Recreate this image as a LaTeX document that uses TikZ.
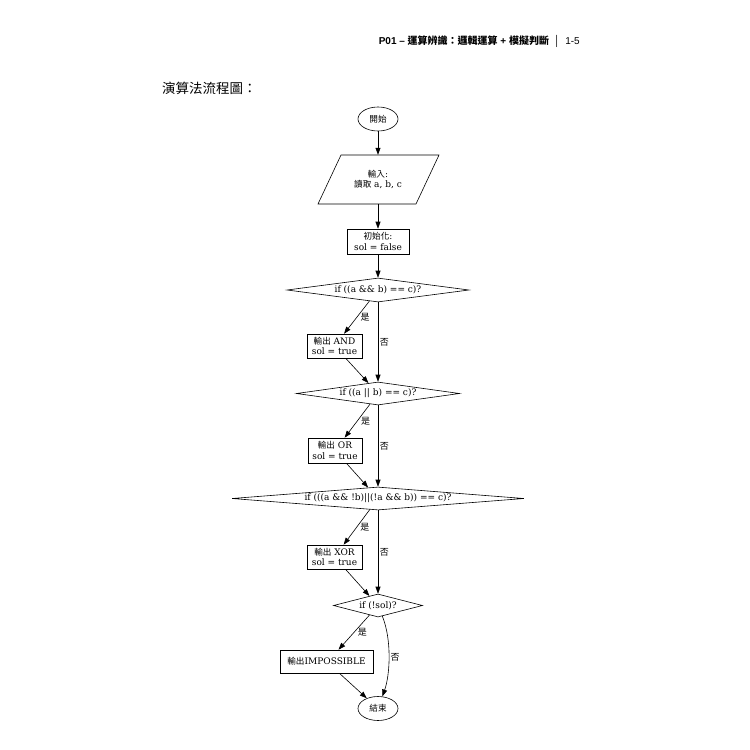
\documentclass[tikz,border=0pt]{standalone}
\usepackage{fontspec}
\setmainfont{DejaVu Serif}
\newfontfamily\cjk{Noto Sans CJK TC}
\newfontfamily\hsans{Liberation Sans}
\usetikzlibrary{shapes.geometric,arrows.meta}
\newcommand\zh[1]{{\cjk\fontsize{8.6}{10}\selectfont #1}}
\begin{document}
\begin{tikzpicture}[x=1pt,y=-1pt,
 every node/.style={font=\fontsize{9}{10.5}\selectfont, inner sep=0pt},
 box/.style={draw, rectangle, align=center, line width=0.6pt},
 dec/.style={draw, diamond, line width=0.6pt},
 term/.style={draw, ellipse, minimum width=40pt, minimum height=24pt, line width=0.6pt},
 arr/.style={-{Triangle[length=7pt,width=5pt]}, line width=0.6pt},
 lbl/.style={font=\cjk\fontsize{9}{10}\selectfont, inner sep=1.5pt}]
\useasboundingbox (0,0) rectangle (750,750);
\fill[white] (0,0) rectangle (750,750);
% header and title
\node[anchor=base east] (hdr) at (580,44) {\hsans\fontsize{10}{12}\selectfont{\bfseries P01 – {\cjk\bfseries 運算辨識：邏輯運算} + {\cjk\bfseries 模擬判斷}}\hspace{5pt}│\hspace{5pt}1-5};
\node[anchor=west, font=\cjk\fontsize{13.5}{15}\selectfont] (title) at (162,88) {演算法流程圖：};
% nodes
\node[term] (start) at (378,119) {\zh{開始}};
\node[minimum width=60pt, minimum height=49pt, align=center] (inp) at (378,179.5) {\zh{輸入}:\\\zh{讀取} a, b, c};
\draw[line width=0.6pt] (341,155) -- (439,155) -- (416,204) -- (318,204) -- cycle;
\node[box, minimum width=62pt, minimum height=25pt] (init) at (378,241.5) {\zh{初始化}:\\sol = false};
\node[dec, minimum width=182pt, minimum height=24pt, aspect=7.6] (d1) at (378,290) {if ((a \&\& b) == c)?};
\node[box, minimum width=55pt, minimum height=24pt] (and) at (334.5,346) {\zh{輸出} AND\\sol = true};
\node[dec, minimum width=163pt, minimum height=23pt, aspect=7] (d2) at (378,393.5) {if ((a || b) == c)?};
\node[box, minimum width=54pt, minimum height=25pt] (or) at (335,450.5) {\zh{輸出} OR\\sol = true};
\node[dec, minimum width=292pt, minimum height=23pt, aspect=12.7] (d3) at (378,498.5) {if (((a \&\& !b)||(!a \&\& b)) == c)?};
\node[box, minimum width=55pt, minimum height=24pt] (xor) at (334.5,557) {\zh{輸出} XOR\\sol = true};
\node[dec, minimum width=89pt, minimum height=23pt, aspect=3.9] (d4) at (378,605.5) {if (!sol)?};
\node[box, minimum width=93pt, minimum height=23pt] (imp) at (326.5,661.5) {\zh{輸出}IMPOSSIBLE};
\node[term] (end) at (378,708.5) {\zh{結束}};
% edges
\draw[arr] (start) -- (inp);
\draw[arr] (inp) -- (init);
\draw[arr] (init) -- (d1);
\draw[arr] (d1) -- node[lbl, right=2pt] {是} (and);
\draw[arr] (and) -- (d2);
\draw[arr] (d1) -- node[lbl, right] {否} (d2);
\draw[arr] (d2) -- node[lbl, right=2pt] {是} (or);
\draw[arr] (or) -- (d3);
\draw[arr] (d2) -- node[lbl, right] {否} (d3);
\draw[arr] (d3) -- node[lbl, right=2pt] {是} (xor);
\draw[arr] (xor) -- (d4);
\draw[arr] (d3) -- node[lbl, right] {否} (d4);
\draw[arr] (d4) -- node[lbl, right=2pt] {是} ([xshift=12pt]imp.north);
\draw[arr] (imp) -- (end);
\draw[arr] (d4) .. controls (392,640) and (390,675) .. node[lbl, right] {否} (end);
\end{tikzpicture}
\end{document}
